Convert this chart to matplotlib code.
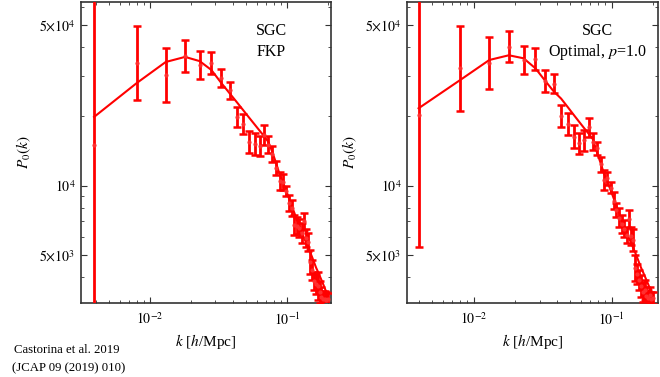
import numpy as np
import matplotlib
matplotlib.use("Agg")
import matplotlib.pyplot as plt
from matplotlib.ticker import FixedLocator, NullFormatter

plt.rcParams['font.family'] = ['Liberation Serif', 'DejaVu Serif']
plt.rcParams['mathtext.fontset'] = 'stix'

# k bins [h/Mpc]
k = [0.0039, 0.008, 0.013, 0.018, 0.023, 0.028, 0.033, 0.038, 0.043, 0.048,
     0.053, 0.058, 0.063, 0.068, 0.073, 0.078, 0.083, 0.088, 0.093, 0.098,
     0.103, 0.108, 0.113, 0.118, 0.123, 0.128, 0.133, 0.138, 0.143, 0.148,
     0.153, 0.158, 0.163, 0.168, 0.173, 0.178, 0.183, 0.188, 0.193, 0.198]

# SGC, FKP weights
pk_fkp = [15100, 34060, 30290, 36640, 33480, 34140, 29400, 25940, 19900, 18550,
          15490, 15180, 14880, 16610, 15030, 13740, 11940, 10480, 10380, 9480,
          8410, 8000, 6750, 6680, 6550, 6230, 7020, 5920, 5690, 4660,
          4300, 3850, 3740, 3660, 3450, 3280, 3220, 3220, 3190, 3220]
# error bar half-width in dex
err_fkp = [0.80, 0.16, 0.117, 0.07, 0.059, 0.048, 0.041, 0.038, 0.045, 0.043,
           0.046, 0.046, 0.042, 0.043, 0.037, 0.033, 0.029, 0.038, 0.033, 0.022,
           0.035, 0.035, 0.043, 0.037, 0.039, 0.043, 0.037, 0.039, 0.041, 0.052,
           0.043, 0.039, 0.043, 0.061, 0.048, 0.043, 0.035, 0.035, 0.035, 0.026]
model_fkp = [19900, 27960, 34500, 36300, 34800, 31850, 28010, 25240, 23050, 21230,
             19710, 18440, 17340, 16390, 15490, 14010, 12550, 11240, 10380, 9580,
             8840, 8170, 7610, 7090, 6680, 6290, 5920, 5630, 5360, 5100,
             4850, 4610, 4390, 4220, 4050, 3890, 3740, 3590, 3450, 3310]

# SGC, optimal weights p=1.0
k_opt = [0.0040] + k[1:]
pk_opt = [20270, 32390, 34060, 40220, 35210, 35480, 28580, 27770, 20050, 18500,
          16330, 15260, 15750, 17910, 15540, 14540, 12400, 10590, 10770, 9820,
          8580, 7840, 7270, 6810, 6510, 6100, 7170, 6040, 5810, 4390,
          4130, 3890, 3660, 3450, 3520, 3310, 3250, 3350, 3220, 3250]
err_opt = [0.575, 0.186, 0.113, 0.068, 0.061, 0.047, 0.047, 0.042, 0.048, 0.047,
           0.051, 0.047, 0.045, 0.040, 0.036, 0.029, 0.033, 0.043, 0.029, 0.025,
           0.037, 0.030, 0.041, 0.039, 0.037, 0.035, 0.039, 0.039, 0.048, 0.057,
           0.043, 0.043, 0.048, 0.043, 0.043, 0.039, 0.035, 0.035, 0.030, 0.026]
model_opt = [21700, 28800, 35200, 36900, 35800, 32400, 28560, 25700, 23910, 21970,
             20330, 18970, 17810, 16830, 15930, 14010, 12550, 11240, 10380, 9580,
             8840, 8170, 7610, 7090, 6680, 6290, 5920, 5630, 5360, 5100,
             4850, 4610, 4390, 4220, 4050, 3890, 3740, 3590, 3450, 3310]

panels = [
    dict(k=k, pk=pk_fkp, err=err_fkp, model=model_fkp, xlim=(3.13e-3, 0.209),
         rect=[0.1227, 0.1963, 0.3788, 0.7984], label=["SGC", "FKP"]),
    dict(k=k_opt, pk=pk_opt, err=err_opt, model=model_opt, xlim=(3.3e-3, 0.216),
         rect=[0.6167, 0.1963, 0.3803, 0.7984], label=["SGC", r"Optimal, $p$=1.0"]),
]

fig = plt.figure(figsize=(6.6, 3.77), dpi=100)

for p in panels:
    ax = fig.add_axes(p['rect'])
    kk = np.array(p['k'])
    pk = np.array(p['pk'])
    d = np.array(p['err'])
    lo = pk - pk * 10 ** (-d)
    hi = pk * 10 ** d - pk
    ax.plot(kk, p['model'], color='red', lw=1.5, zorder=2)
    ax.errorbar(kk, pk, yerr=[lo, hi], fmt='o', ms=2, color='#ff3030',
                ecolor='red', elinewidth=2.0, capsize=3, capthick=1.8, zorder=3)
    ax.set_xscale('log')
    ax.set_yscale('log')
    ax.set_xlim(*p['xlim'])
    ax.set_ylim(3090, 62900)

    ax.xaxis.set_major_locator(FixedLocator([1e-2, 1e-1]))
    ax.set_xticklabels([r'$10^{-2}$', r'$10^{-1}$'])
    ax.xaxis.set_minor_locator(FixedLocator(
        [m * 1e-3 for m in range(3, 10)] + [m * 1e-2 for m in range(2, 10)] + [0.2]))
    ax.xaxis.set_minor_formatter(NullFormatter())
    ax.yaxis.set_major_locator(FixedLocator([5e3, 1e4, 5e4]))
    ax.set_yticklabels([r'$5{\times}10^{3}$', r'$10^{4}$', r'$5{\times}10^{4}$'])
    ax.yaxis.set_minor_locator(FixedLocator([4e3, 6e3, 7e3, 8e3, 9e3, 2e4, 3e4, 4e4, 6e4]))
    ax.yaxis.set_minor_formatter(NullFormatter())
    ax.tick_params(which='both', direction='in', top=True, right=True,
                   labelsize=10, colors='#333333', labelcolor='black')
    ax.tick_params(which='major', length=4.5, width=0.8)
    ax.tick_params(axis='x', which='major', pad=6)
    ax.tick_params(axis='y', which='major', pad=4)
    ax.tick_params(which='minor', length=2.5, width=0.6)
    for s in ax.spines.values():
        s.set_linewidth(1.2)
        s.set_color('#333333')

    ax.set_ylabel(r'$P_0(k)$', fontsize=11, labelpad=4)
    ax.set_xlabel(r'$k$ [$h$/Mpc]', fontsize=11, labelpad=3)
    ax.text(0.76, 0.905, p['label'][0], transform=ax.transAxes,
            ha='center', va='center', fontsize=11.5)
    ax.text(0.76, 0.835, p['label'][1], transform=ax.transAxes,
            ha='center', va='center', fontsize=11.5)

fig.text(0.021, 0.072, "Castorina et al. 2019", fontsize=9.2, ha='left', va='center')
fig.text(0.018, 0.024, "(JCAP 09 (2019) 010)", fontsize=9.2, ha='left', va='center')

fig.savefig("out.png", dpi=100)
